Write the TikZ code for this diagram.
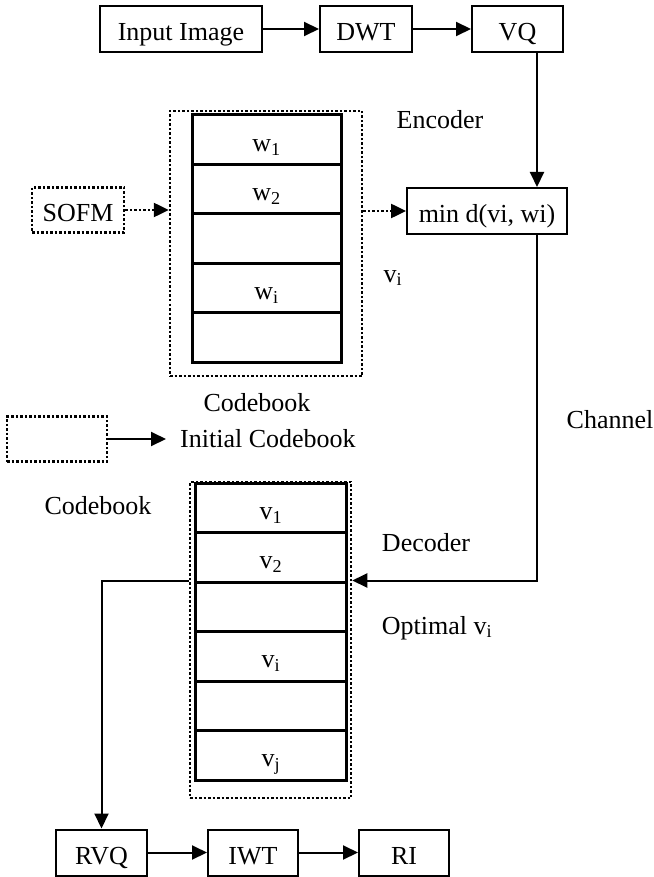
\documentclass[tikz,border=0pt]{standalone}
\usepackage{fontspec}
\setmainfont{Liberation Serif}
\usetikzlibrary{arrows.meta}
\begin{document}
\begin{tikzpicture}[x=1pt,y=-1pt,line join=miter,
	font=\fontsize{26}{31}\selectfont,
	>={Triangle[length=15pt,width=14pt]},
	blk/.style={draw,line width=2pt,inner sep=0pt,minimum height=46pt,text height=26pt,text depth=2.6pt},
	dotbox/.style={draw,line width=2.5pt,dash pattern=on 2.5pt off 2pt,inner sep=0pt,text height=26pt,text depth=2.6pt},
	cell/.style={draw,line width=3pt,inner sep=0pt,minimum height=49.5pt,text height=26pt,text depth=2.6pt},
	arr/.style={->,line width=2pt},
	dotarr/.style={->,line width=2.5pt,dash pattern=on 2.5pt off 2pt},
	lbl/.style={inner sep=0pt}]
	\useasboundingbox (0,0) rectangle (653,877);
	\node[blk,minimum width=162pt] (input) at (181,29) {Input Image};
	\node[blk,minimum width=92pt] (dwt) at (366,29) {DWT};
	\node[blk,minimum width=91pt] (vq) at (517.5,29) {VQ};
	\node[blk,minimum width=160pt] (mind) at (487,211) {min d(vi, wi)};
	\node[dotbox,minimum width=92pt,minimum height=45pt] (sofm) at (78,210) {SOFM};
	\coordinate (ch) at (537,0);
	\node[dotbox,minimum width=192pt,minimum height=265pt] (cbw) at (266,243.5) {};
	\foreach \lab [count=\i] in {{w\textsubscript{1}},{w\textsubscript{2}},{},{w\textsubscript{i}},{}}
		\node[cell,minimum width=149pt,minimum height=49.4pt] (w\i) at (266.5,{90.3+49.4*\i}) {\lab};
	\node[dotbox,minimum width=161pt,minimum height=316pt] (cbv) at (270.5,640) {};
	\foreach \lab [count=\i] in {{v\textsubscript{1}},{v\textsubscript{2}},{},{v\textsubscript{i}},{},{v\textsubscript{j}}}
		\node[cell,minimum width=151pt] (v\i) at (271,{458.25+49.5*\i}) {\lab};
	\node[dotbox,minimum width=100pt,minimum height=45pt] (legend) at (57,439) {};
	\node[lbl,anchor=west] (init) at (180,439) {Initial Codebook};
	\node[lbl] (enc) at (440,120) {Encoder};
	\node[lbl] (vi) at (393,278) {v\textsubscript{i}};
	\node[lbl] (cbwlab) at (257,403) {Codebook};
	\node[lbl] (chan) at (610,420) {Channel};
	\node[lbl] (cbvlab) at (98,506) {Codebook};
	\node[lbl] (dec) at (426,543) {Decoder};
	\node[lbl] (opt) at (437,628) {Optimal v\textsubscript{i}};
	\node[blk,minimum width=91pt] (rvq) at (101.5,852.5) {RVQ};
	\node[blk,minimum width=90pt] (iwt) at (253,852.5) {IWT};
	\node[blk,minimum width=90pt] (ri) at (404,852.5) {RI};
	\draw[arr] (input) -- (dwt);
	\draw[arr] (dwt) -- (vq);
	\draw[arr] (vq.south -| ch) -- (mind.north -| ch);
	\draw[dotarr] (sofm.east) -- (sofm.east -| cbw.west);
	\draw[dotarr] (cbw.east |- mind.west) -- (mind.west);
	\draw[arr,shorten >=14pt] (legend.east) -- (init.west);
	\draw[arr] (mind.south -| ch) |- (v3.north -| cbv.east);
	\draw[arr] (v3.north -| cbv.west) -| (rvq.north);
	\draw[arr] (rvq) -- (iwt);
	\draw[arr] (iwt) -- (ri);
\end{tikzpicture}
\end{document}
